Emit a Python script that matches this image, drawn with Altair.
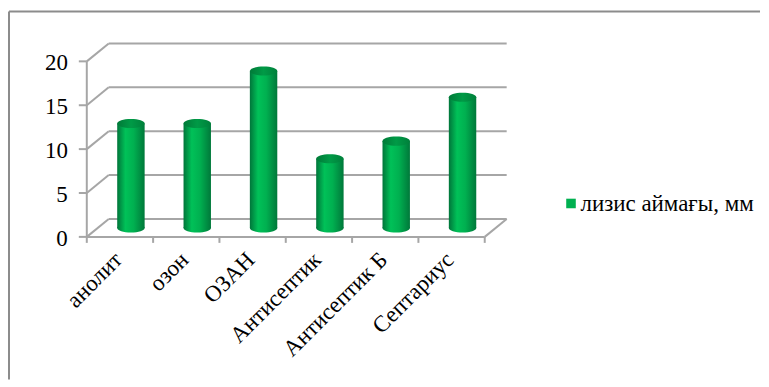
import altair as alt
import pandas as pd

# ---- data ----
categories = ["анолит", "озон", "ОЗАН", "Антисептик", "Антисептик  Б", "Септариус"]
values = [12, 12, 18, 8, 10, 15]
y_ticks = [0, 5, 10, 15, 20]
series_name = ["лизис аймағы, мм"]

# ---- layout / style constants (pixels) ----
W, H = 753, 369
PLOT_LEFT = 78      # front axis x within the view
SLOT = 66.5         # px per category slot
BASE = 226          # y of value 0 within the view
UNIT = 8.8          # px per value unit
DX, DY = 22, -18    # depth offset of the back wall
GRID = "#A6A6A6"
FONT = "Liberation Serif"

n = len(categories)
x0 = -PLOT_LEFT / SLOT
x1 = x0 + W / SLOT
ytop = BASE / UNIT
ybot = ytop - H / UNIT
xs = alt.Scale(domain=[x0, x1], nice=False, zero=False, padding=0)
ysc = alt.Scale(domain=[ybot, ytop], nice=False, zero=False, padding=0)

bars = pd.DataFrame({"cat": categories, "value": values, "idx": list(range(n))})
bars["center"] = bars["idx"] + 0.5
grid = pd.DataFrame({"v": y_ticks})
grid["start"] = 0
grid["end"] = n
cuts = pd.DataFrame({"k": list(range(n + 1))})
cuts["zero"] = 0
legend_df = pd.DataFrame({"series": series_name})

X = lambda f: alt.X(f, type="quantitative", scale=xs, axis=None)
Y = lambda f: alt.Y(f, type="quantitative", scale=ysc, axis=None)

# back wall grid lines
back = alt.Chart(grid).mark_rule(color=GRID, strokeWidth=2, xOffset=DX, x2Offset=DX,
                                 yOffset=DY, y2Offset=DY).encode(
    x=X("start"), x2="end", y=Y("v"))
# left wall diagonals
side = alt.Chart(grid).mark_rule(color=GRID, strokeWidth=2, x2Offset=DX, y2Offset=DY).encode(
    x=X("start"), x2="start", y=Y("v"), y2="v")
# floor right diagonal
floor_r = alt.Chart(grid[grid.v == 0]).mark_rule(color=GRID, strokeWidth=2, x2Offset=DX,
                                                 y2Offset=DY).encode(
    x=X("end"), x2="end", y=Y("v"), y2="v")
# front value axis
vaxis = alt.Chart(grid).mark_rule(color=GRID, strokeWidth=2).encode(
    x=X("min(start)"), y=Y("min(v)"), y2="max(v)")
vticks = alt.Chart(grid).mark_rule(color=GRID, strokeWidth=2, xOffset=-8).encode(
    x=X("start"), x2="start", y=Y("v"))
# category axis
caxis = alt.Chart(grid[grid.v == 0]).mark_rule(color=GRID, strokeWidth=2).encode(
    x=X("start"), x2="end", y=Y("v"))
cticks = alt.Chart(cuts).mark_rule(color=GRID, strokeWidth=2, y2Offset=6).encode(
    x=X("k"), y=Y("zero"), y2="zero")

body_grad = alt.Gradient(gradient="linear", x1=0, y1=0, x2=1, y2=0, stops=[
    alt.GradientStop(offset=0, color="#00753A"),
    alt.GradientStop(offset=0.3, color="#00C158"),
    alt.GradientStop(offset=0.6, color="#00B050"),
    alt.GradientStop(offset=1, color="#00783A"),
])
top_grad = alt.Gradient(gradient="linear", x1=0, y1=0, x2=1, y2=0, stops=[
    alt.GradientStop(offset=0, color="#007A38"),
    alt.GradientStop(offset=0.5, color="#009A46"),
    alt.GradientStop(offset=1, color="#00803B"),
])
ELL = "M -1 0 A 1 0.33 0 1 0 1 0 A 1 0.33 0 1 0 -1 0 Z"
BW = 27.5
OX, OY = 11, -8

cap_bottom = alt.Chart(bars).mark_point(shape=ELL, size=BW * BW, filled=True, opacity=1,
                                        strokeWidth=0, color=body_grad,
                                        xOffset=OX, yOffset=OY - 1).encode(
    x=X("center"), y=alt.Y(datum=0, scale=ysc, axis=None))
body = alt.Chart(bars).mark_bar(width=BW, color=body_grad, xOffset=OX, yOffset=OY,
                                y2Offset=OY - 1).encode(
    x=X("center"), y=Y("value"), y2=alt.Y2(datum=0))
cap_top = alt.Chart(bars).mark_point(shape=ELL, size=BW * BW, filled=True, opacity=1,
                                     strokeWidth=0, color=top_grad,
                                     xOffset=OX, yOffset=OY).encode(
    x=X("center"), y=Y("value"))

ylabels = alt.Chart(grid).mark_text(align="right", baseline="middle", xOffset=-19, yOffset=2,
                                    font=FONT, fontSize=23, color="black").encode(
    x=X("start"), y=Y("v"), text="v:Q")
clabels = alt.Chart(bars).mark_text(angle=315, align="right", baseline="middle", xOffset=-1.5,
                                    yOffset=19.5, font=FONT, fontSize=23, color="black").encode(
    x=X("center"), y=alt.Y(datum=0, scale=ysc, axis=None), text="cat:N")

# legend (square + label)
leg_sym = alt.Chart(legend_df).mark_square(size=92, color="#00B050", opacity=1).encode(
    x=alt.value(563.5), y=alt.value(192.5))
leg_txt = alt.Chart(legend_df).mark_text(align="left", baseline="middle", font=FONT,
                                         fontSize=23, color="black").encode(
    x=alt.value(573), y=alt.value(193), text="series:N")

frame_top = alt.Chart(legend_df).mark_rule(color="#8C8C8C", strokeWidth=2).encode(
    x=alt.value(0), x2=alt.value(W), y=alt.value(0))
frame_left = alt.Chart(legend_df).mark_rule(color="#8C8C8C", strokeWidth=2).encode(
    x=alt.value(0), y=alt.value(0), y2=alt.value(H))

chart = alt.layer(
    frame_top, frame_left, back, side, floor_r, vaxis, vticks, caxis, cticks,
    cap_bottom, body, cap_top, ylabels, clabels, leg_sym, leg_txt
).properties(
    width=W, height=H, padding={"left": 0, "top": 2, "right": 0, "bottom": 0}
).configure_view(stroke=None)

chart.save("out.html", embed_options={"renderer": "svg", "actions": False})
